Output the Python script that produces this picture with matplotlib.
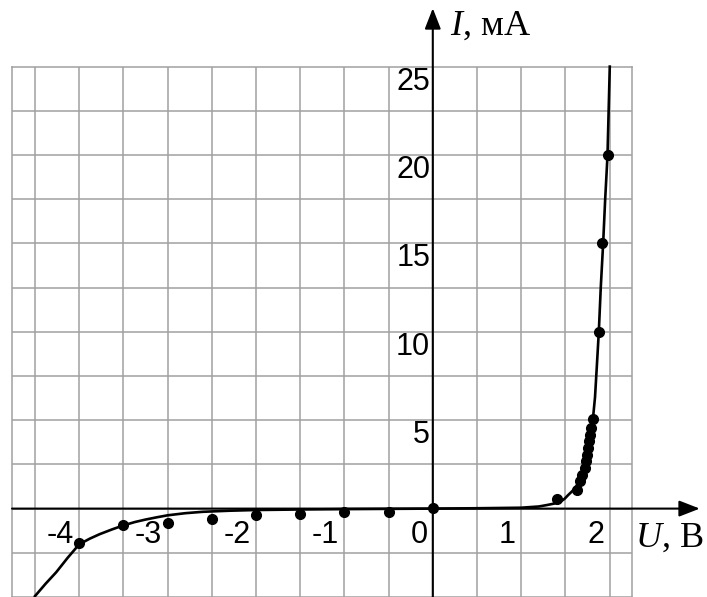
import numpy as np
import matplotlib
matplotlib.use("Agg")
import matplotlib.pyplot as plt

plt.rcParams['font.family'] = 'Liberation Sans'
plt.rcParams['mathtext.fontset'] = 'custom'
plt.rcParams['mathtext.it'] = 'Liberation Serif:italic'
plt.rcParams['mathtext.rm'] = 'Liberation Serif'

# measured points (U in V, I in mA)
reverse_u = [-4.0, -3.5, -3.0, -2.5, -2.0, -1.5, -1.0, -0.5, 0.0]
reverse_i = [-1.95, -0.93, -0.80, -0.59, -0.37, -0.33, -0.22, -0.20, 0.06]
forward_u = [1.40, 1.633, 1.670, 1.693, 1.719, 1.738, 1.750, 1.761, 1.769, 1.776,
             1.784, 1.814, 1.878, 1.916, 1.984]
forward_i = [0.52, 1.07, 1.55, 1.92, 2.30, 2.68, 3.05, 3.43, 3.81, 4.19,
             4.56, 5.07, 10.0, 15.0, 20.0]

# fitted curve
curve_u = [-4.50, -4.38, -4.26, -4.13, -4.00, -3.88, -3.77, -3.63, -3.50, -3.37,
           -3.25, -3.12, -3.00, -2.80, -2.60, -2.30, -2.00, -1.50, -1.00, 0.00,
           0.50, 1.00, 1.20, 1.29, 1.37, 1.44, 1.49, 1.53, 1.58, 1.62,
           1.68, 1.72, 1.76, 1.79, 1.81, 1.835, 1.855, 1.878, 1.90, 1.927,
           1.95, 1.976, 2.002]
curve_i = [-4.95, -4.25, -3.60, -2.78, -2.02, -1.70, -1.45, -1.18, -0.95, -0.76,
           -0.62, -0.49, -0.38, -0.26, -0.18, -0.12, -0.08, -0.05, -0.03, 0.00,
           0.02, 0.05, 0.12, 0.20, 0.28, 0.38, 0.55, 0.76, 1.00, 1.23,
           1.80, 2.40, 3.20, 4.20, 5.00, 6.30, 8.00, 10.0, 12.5, 15.0,
           17.5, 19.94, 25.0]

u_ticks = [-4, -3, -2, -1, 0, 1, 2]
i_ticks = [5, 10, 15, 20, 25]

fig = plt.figure(figsize=(7.07, 5.97), dpi=100)
ax = fig.add_axes([12 / 707, 0.0, 619.7 / 707, 530.4 / 597])
ax.set_xlim(-4.76, 2.25)
ax.set_ylim(-5, 25)

ax.set_xticks(np.arange(-4.5, 2.01, 0.5))
ax.set_yticks(np.arange(-2.5, 25, 2.5))
ax.tick_params(length=0, labelbottom=False, labelleft=False)
ax.grid(color='#a0a0a0', lw=1.1)
for s in ax.spines.values():
    s.set_color('#a0a0a0')
    s.set_linewidth(1.1)

# axes with arrows
arrow = dict(arrowstyle='-|>,head_length=0.9,head_width=0.35', color='black',
             lw=1.5, mutation_scale=14, shrinkA=0, shrinkB=0)
ax.annotate('', xy=(3.02, 0), xytext=(-4.76, 0), arrowprops=arrow,
            annotation_clip=False)
ax.annotate('', xy=(0, 28.3), xytext=(0, -5), arrowprops=arrow,
            annotation_clip=False)

ax.plot(curve_u, curve_i, color='black', lw=1.9, clip_on=False, zorder=3)
ax.plot(reverse_u, reverse_i, 'o', color='black', ms=7, zorder=4)
ax.plot(forward_u, forward_i, 'o', color='black', ms=7, zorder=4)

for u in u_ticks:
    ax.text(u - 0.06, -1.5, str(u), ha='right', va='center', fontsize=22)
for i in i_ticks:
    ax.text(-0.03, i - 0.85, str(i), ha='right', va='center', fontsize=22)

ax.text(0.20, 27.3, r'$I$, мА', ha='left', va='center', fontsize=26,
        family='Liberation Serif')
ax.text(2.29, -1.7, r'$U$, В', ha='left', va='center', fontsize=26,
        family='Liberation Serif')

plt.savefig('out.png', dpi=100)
